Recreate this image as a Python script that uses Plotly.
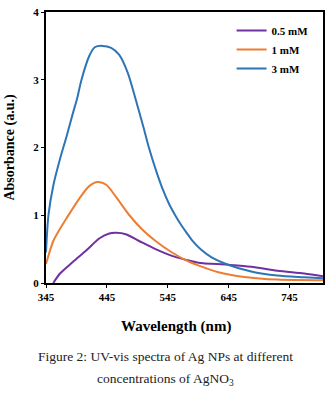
import plotly.graph_objects as go

# 3 mM
wl_3 = [345, 349, 357, 368, 379, 389, 396, 403, 416, 425, 438, 452, 465, 479, 492, 506, 514, 525, 536, 547, 556, 566, 576, 585, 600, 617, 644, 682, 725, 769, 800]
abs_3 = [0.45, 1.00, 1.44, 1.83, 2.17, 2.50, 2.72, 2.99, 3.35, 3.48, 3.50, 3.47, 3.37, 3.11, 2.72, 2.27, 2.00, 1.68, 1.40, 1.17, 1.02, 0.87, 0.74, 0.63, 0.49, 0.38, 0.27, 0.17, 0.11, 0.085, 0.07]
# 1 mM
wl_1 = [345, 357, 368, 379, 400, 416, 430, 444, 460, 482, 503, 525, 552, 576, 595, 628, 671, 725, 800]
abs_1 = [0.28, 0.62, 0.80, 0.96, 1.25, 1.43, 1.49, 1.45, 1.27, 1.00, 0.79, 0.62, 0.45, 0.33, 0.26, 0.16, 0.09, 0.05, 0.04]
# 0.5 mM
wl_05 = [357, 368, 389, 411, 433, 449, 460, 476, 498, 525, 552, 576, 595, 644, 682, 725, 769, 800]
abs_05 = [0.00, 0.14, 0.31, 0.48, 0.66, 0.73, 0.74, 0.72, 0.62, 0.50, 0.40, 0.34, 0.30, 0.27, 0.24, 0.18, 0.14, 0.10]

x_ticks = [345, 445, 545, 645, 745]
y_ticks = [0, 1, 2, 3, 4]

SERIF = "Liberation Serif, Times New Roman, serif"

fig = go.Figure()
fig.add_trace(go.Scatter(x=wl_05, y=abs_05, mode="lines", name="0.5 mM",
                         line=dict(color="#7030A0", width=2, shape="spline", smoothing=0.8)))
fig.add_trace(go.Scatter(x=wl_1, y=abs_1, mode="lines", name="1 mM",
                         line=dict(color="#ED7D31", width=2, shape="spline", smoothing=0.8)))
fig.add_trace(go.Scatter(x=wl_3, y=abs_3, mode="lines", name="3 mM",
                         line=dict(color="#2E75B6", width=2, shape="spline", smoothing=0.8)))

fig.update_layout(
    width=331, height=393,
    margin=dict(l=46, r=6, t=7, b=110),
    paper_bgcolor="white", plot_bgcolor="white",
    font=dict(family=SERIF, color="black"),
    showlegend=True,
    legend=dict(x=0.67, y=0.985, xanchor="left", yanchor="top",
                font=dict(family=SERIF, size=11, weight="bold"),
                bgcolor="rgba(0,0,0,0)", tracegroupgap=0, itemwidth=30),
    xaxis=dict(range=[345, 800], tickvals=x_ticks, ticktext=[str(v) for v in x_ticks],
               showgrid=False, zeroline=False, showline=True, linecolor="black", linewidth=2,
               mirror=True, ticks="outside", ticklen=3, tickcolor="black",
               tickfont=dict(family=SERIF, size=11, weight="bold")),
    yaxis=dict(range=[0, 4], tickvals=y_ticks, showgrid=False, zeroline=False,
               showline=True, linecolor="black", linewidth=2, mirror=True,
               ticks="outside", ticklen=3, tickcolor="black",
               tickfont=dict(family=SERIF, size=11, weight="bold"),
               title=dict(text="Absorbance (a.u.)", standoff=15,
                          font=dict(family=SERIF, size=14, weight="bold"))),
)

fig.add_annotation(x=0.47, y=-0.12, xref="paper", yref="paper", xanchor="center", yanchor="top",
                   text="<b>Wavelength (nm)</b>", showarrow=False,
                   font=dict(family=SERIF, size=15, color="black"))
fig.add_annotation(x=0.43, y=-0.235, xref="paper", yref="paper", xanchor="center", yanchor="top",
                   text="Figure 2: UV-vis spectra of Ag NPs at different", showarrow=False,
                   font=dict(family=SERIF, size=13.5, color="#222"))
fig.add_annotation(x=0.43, y=-0.318, xref="paper", yref="paper", xanchor="center", yanchor="top",
                   text="concentrations of AgNO<sub>3</sub>", showarrow=False,
                   font=dict(family=SERIF, size=13.5, color="#222"))

fig.write_html("out.html")
